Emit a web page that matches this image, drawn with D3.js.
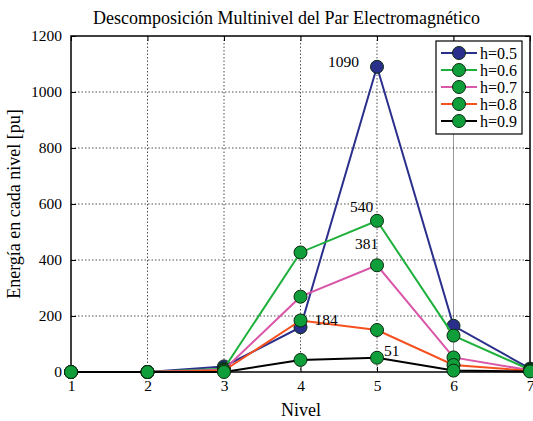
<!DOCTYPE html>
<html>
<head>
<meta charset="utf-8">
<script src="https://cdn.jsdelivr.net/npm/d3@7"></script>
</head>
<body style="margin:0">
<svg id="chart" width="533" height="421"></svg>
<script>
// Niveles de descomposición
const niveles = [1, 2, 3, 4, 5, 6, 7];

// Energía por nivel para cada valor de h
const serieH05 = [0, 0, 20, 160, 1090, 165, 12];
const serieH06 = [0, 0, 12, 427, 540, 130, 8];
const serieH07 = [0, 0, 8, 269, 381, 52, 6];
const serieH08 = [0, 0, 5, 184, 150, 25, 4];
const serieH09 = [0, 0, 0, 43, 51, 5, 2];

const nombres = ["h=0.5", "h=0.6", "h=0.7", "h=0.8", "h=0.9"];
const colores = ["#2b2f8c", "#1fb03c", "#d957a8", "#f5501e", "#000000"];
const rellenos = ["#2b2f8c", "#0f9e3a", "#0f9e3a", "#0f9e3a", "#0f9e3a"];
const series = [serieH05, serieH06, serieH07, serieH08, serieH09];

const ticksY = [0, 200, 400, 600, 800, 1000, 1200];

// Valores anotados junto a su marcador
const anotaciones = [
  { nivel: 5, valor: 1090, dx: -49, dy: 0 },
  { nivel: 5, valor: 540, dx: -27, dy: -9 },
  { nivel: 5, valor: 381, dx: -22, dy: -16 },
  { nivel: 4, valor: 184, dx: 14, dy: 4.5 },
  { nivel: 5, valor: 51, dx: 7, dy: -2 }
];

const FUENTE = "'Liberation Serif'";

const svg = d3.select("#chart");
const m = { left: 71, right: 530, top: 36, bottom: 372 };

const x = d3.scaleLinear().domain([1, 7]).range([m.left, m.right]);
const y = d3.scaleLinear().domain([0, 1200]).range([m.bottom, m.top]);

// Rejilla punteada
const g = svg.append("g");
g.selectAll("line.gx").data(niveles.filter(n => n > 1 && n < 7)).enter()
  .append("line")
  .attr("x1", d => x(d)).attr("x2", d => x(d))
  .attr("y1", m.top).attr("y2", m.bottom)
  .attr("stroke", d => d === 6 ? "#9a9a9a" : "#222")
  .attr("stroke-width", d => d === 6 ? 1 : 0.8)
  .attr("stroke-dasharray", d => d === 6 ? null : "1.5,2");
g.selectAll("line.gy").data(ticksY.filter(t => t > 0 && t < 1200)).enter()
  .append("line")
  .attr("x1", m.left).attr("x2", m.right)
  .attr("y1", d => y(d)).attr("y2", d => y(d))
  .attr("stroke", "#222").attr("stroke-width", 0.8)
  .attr("stroke-dasharray", "1.5,2");

// Ejes con marcas hacia dentro
const ejeX = d3.axisBottom(x).tickValues(niveles).tickSize(-5).tickPadding(8).tickFormat(d3.format("d"));
const ejeY = d3.axisLeft(y).tickValues(ticksY).tickSize(-5).tickPadding(9).tickFormat(d3.format("d"));
const ejeX2 = d3.axisTop(x).tickValues(niveles).tickSize(-5).tickFormat("");
const ejeY2 = d3.axisRight(y).tickValues(ticksY).tickSize(-5).tickFormat("");

function estilo(sel) {
  sel.attr("font-family", null).attr("font-size", null);
  sel.selectAll(".domain").remove();
  sel.selectAll(".tick line").attr("stroke", "#000").attr("stroke-width", 1);
  sel.selectAll(".tick text").attr("fill", "#000")
    .attr("font-size", 15.5)
    .style("font-family", FUENTE);
}
svg.append("g").attr("transform", `translate(0,${m.bottom})`).call(ejeX).call(estilo);
svg.append("g").attr("transform", `translate(${m.left},0)`).call(ejeY).call(estilo);
svg.append("g").attr("transform", `translate(0,${m.top})`).call(ejeX2).call(estilo);
svg.append("g").attr("transform", `translate(${m.right},0)`).call(ejeY2).call(estilo);

// Marco
svg.append("rect")
  .attr("x", m.left).attr("y", m.top)
  .attr("width", m.right - m.left).attr("height", m.bottom - m.top)
  .attr("fill", "none").attr("stroke", "#000").attr("stroke-width", 1.5);

// Líneas y marcadores
const linea = d3.line().x((d, i) => x(niveles[i])).y(d => y(d));
series.forEach((s, k) => {
  svg.append("path").datum(s)
    .attr("d", linea)
    .attr("fill", "none")
    .attr("stroke", colores[k])
    .attr("stroke-width", 2);
  svg.selectAll(null).data(s).enter().append("circle")
    .attr("cx", (d, i) => x(niveles[i]))
    .attr("cy", d => y(d))
    .attr("r", 6.5)
    .attr("fill", rellenos[k])
    .attr("stroke", "#0a2a10")
    .attr("stroke-width", 1);
});

// Etiquetas de valores
svg.selectAll("text.val").data(anotaciones).enter().append("text")
  .attr("x", d => x(d.nivel) + d.dx)
  .attr("y", d => y(d.valor) + d.dy)
  .attr("font-size", 15.5)
  .style("font-family", FUENTE)
  .attr("fill", "#000")
  .text(d => d.valor);

// Leyenda
const leyenda = svg.append("g");
leyenda.append("rect")
  .attr("x", 436).attr("y", 41).attr("width", 86).attr("height", 93)
  .attr("fill", "#fff").attr("stroke", "#000").attr("stroke-width", 1.2);
nombres.forEach((n, k) => {
  const yy = 53 + k * 17;
  leyenda.append("line")
    .attr("x1", 441).attr("x2", 477).attr("y1", yy).attr("y2", yy)
    .attr("stroke", colores[k]).attr("stroke-width", 2);
  leyenda.append("circle")
    .attr("cx", 459).attr("cy", yy).attr("r", 6.5)
    .attr("fill", rellenos[k]).attr("stroke", "#0a2a10").attr("stroke-width", 1);
  leyenda.append("text")
    .attr("x", 480).attr("y", yy + 5.5)
    .attr("font-size", 16)
    .style("font-family", FUENTE)
    .attr("fill", "#000")
    .text(n);
});

// Títulos
svg.append("text")
  .attr("x", 286.5).attr("y", 24)
  .attr("text-anchor", "middle")
  .attr("font-size", 18)
  .style("font-family", FUENTE)
  .text("Descomposición Multinivel del Par Electromagnético");
svg.append("text")
  .attr("x", 301).attr("y", 416)
  .attr("text-anchor", "middle")
  .attr("font-size", 18)
  .style("font-family", FUENTE)
  .text("Nivel");
svg.append("text")
  .attr("transform", "translate(20,204) rotate(-90)")
  .attr("text-anchor", "middle")
  .attr("font-size", 18)
  .style("font-family", FUENTE)
  .text("Energía en cada nivel [pu]");
</script>
</body>
</html>
